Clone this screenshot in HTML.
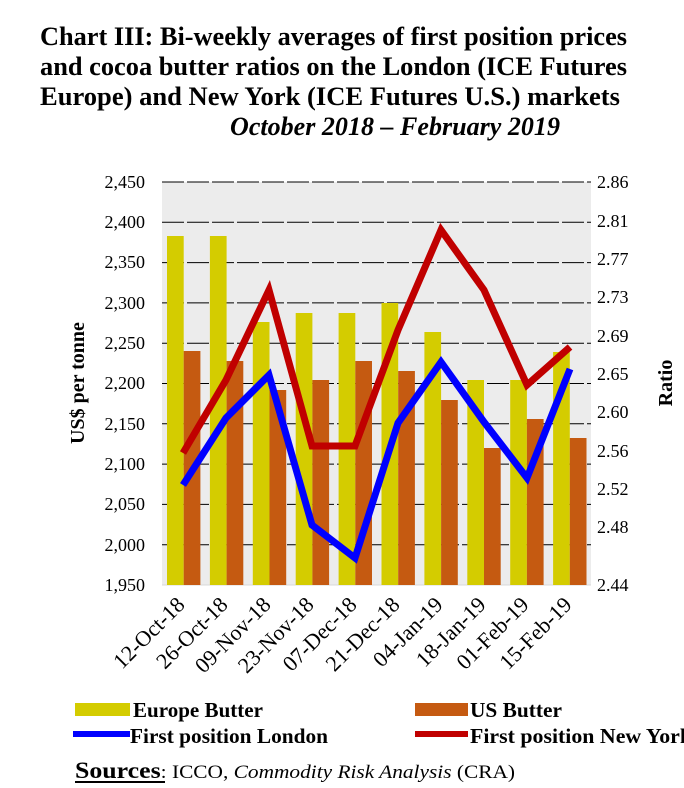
<!DOCTYPE html>
<html><head><meta charset="utf-8"><style>
html,body{margin:0;padding:0;background:#fff;}
svg{display:block;font-family:"Liberation Serif",serif;}
</style></head><body>
<svg width="684" height="788" viewBox="0 0 684 788" xmlns="http://www.w3.org/2000/svg">
<g font-weight="bold" font-size="26" fill="#000">
<text x="40" y="45" textLength="587" lengthAdjust="spacingAndGlyphs">Chart III: Bi-weekly averages of first position prices</text>
<text x="40" y="75" textLength="587" lengthAdjust="spacingAndGlyphs">and cocoa butter ratios on the London (ICE Futures</text>
<text x="40" y="105" textLength="580" lengthAdjust="spacingAndGlyphs">Europe) and New York (ICE Futures U.S.) markets</text>
<text x="230" y="135" font-style="italic" textLength="330" lengthAdjust="spacingAndGlyphs">October 2018 – February 2019</text>
</g>
<rect x="162" y="182" width="429" height="403" fill="#ececec"/>
<g stroke="#000" stroke-width="1" stroke-dasharray="22,3">
<line x1="162" y1="182" x2="591" y2="182"/><line x1="162" y1="222.3" x2="591" y2="222.3"/>
<line x1="162" y1="262.6" x2="591" y2="262.6"/><line x1="162" y1="302.9" x2="591" y2="302.9"/>
<line x1="162" y1="343.2" x2="591" y2="343.2"/><line x1="162" y1="383.5" x2="591" y2="383.5"/>
<line x1="162" y1="423.8" x2="591" y2="423.8"/><line x1="162" y1="464.1" x2="591" y2="464.1"/>
<line x1="162" y1="504.4" x2="591" y2="504.4"/><line x1="162" y1="544.7" x2="591" y2="544.7"/>
</g>
<line x1="162" y1="585" x2="591" y2="585" stroke="#d9d9d9" stroke-width="1"/>
<g fill="#d4cc00">
<rect x="167" y="236" width="16.7" height="349"/>
<rect x="209.9" y="236" width="16.7" height="349"/>
<rect x="252.8" y="322" width="16.7" height="263"/>
<rect x="295.7" y="313" width="16.7" height="272"/>
<rect x="338.6" y="313" width="16.7" height="272"/>
<rect x="381.5" y="303" width="16.7" height="282"/>
<rect x="424.4" y="332" width="16.7" height="253"/>
<rect x="467.3" y="380" width="16.7" height="205"/>
<rect x="510.2" y="380" width="16.7" height="205"/>
<rect x="553.1" y="352" width="16.7" height="233"/>
</g>
<g fill="#c55a11">
<rect x="183.7" y="351" width="16.7" height="234"/>
<rect x="226.6" y="361" width="16.7" height="224"/>
<rect x="269.5" y="390" width="16.7" height="195"/>
<rect x="312.4" y="380" width="16.7" height="205"/>
<rect x="355.3" y="361" width="16.7" height="224"/>
<rect x="398.2" y="371" width="16.7" height="214"/>
<rect x="441.1" y="400" width="16.7" height="185"/>
<rect x="484" y="448" width="16.7" height="137"/>
<rect x="526.9" y="419" width="16.7" height="166"/>
<rect x="569.8" y="438" width="16.7" height="147"/>
</g>
<polyline fill="none" stroke="#0000ff" stroke-width="7" stroke-linejoin="miter" points="183,485 226,418 269,375 312,525 355,558 398,423 441,362 484,422 527,478 570,369"/>
<polyline fill="none" stroke="#c00000" stroke-width="7" stroke-linejoin="miter" points="183,453 226,380 269,290 312,446 355,446 398,330 441,230 484,290 527,385 570,347"/>
<g font-size="18" text-anchor="end">
<text x="145" y="188">2,450</text><text x="145" y="228">2,400</text><text x="145" y="268">2,350</text>
<text x="145" y="309">2,300</text><text x="145" y="349">2,250</text><text x="145" y="389">2,200</text>
<text x="145" y="430">2,150</text><text x="145" y="470">2,100</text><text x="145" y="510">2,050</text>
<text x="145" y="551">2,000</text><text x="145" y="591">1,950</text>
</g>
<g font-size="18">
<text x="597" y="188">2.86</text><text x="597" y="227">2.81</text><text x="597" y="265">2.77</text>
<text x="597" y="303">2.73</text><text x="597" y="342">2.69</text><text x="597" y="380">2.65</text>
<text x="597" y="418">2.60</text><text x="597" y="457">2.56</text><text x="597" y="495">2.52</text>
<text x="597" y="533">2.48</text><text x="597" y="591">2.44</text>
</g>
<text transform="translate(84,383) rotate(-90)" text-anchor="middle" font-size="20" font-weight="bold">US$ per tonne</text>
<text transform="translate(672,383) rotate(-90)" text-anchor="middle" font-size="20" font-weight="bold">Ratio</text>
<g font-size="22" text-anchor="end">
<text transform="translate(186,606) rotate(-45)">12-Oct-18</text>
<text transform="translate(229,606) rotate(-45)">26-Oct-18</text>
<text transform="translate(272,606) rotate(-45)">09-Nov-18</text>
<text transform="translate(315,606) rotate(-45)">23-Nov-18</text>
<text transform="translate(358,606) rotate(-45)">07-Dec-18</text>
<text transform="translate(401,606) rotate(-45)">21-Dec-18</text>
<text transform="translate(444,606) rotate(-45)">04-Jan-19</text>
<text transform="translate(487,606) rotate(-45)">18-Jan-19</text>
<text transform="translate(530,606) rotate(-45)">01-Feb-19</text>
<text transform="translate(573,606) rotate(-45)">15-Feb-19</text>
</g>
<rect x="75" y="703" width="55" height="13" fill="#d4cc00"/>
<rect x="415" y="703" width="53" height="13" fill="#c55a11"/>
<rect x="73" y="731" width="57" height="6" fill="#0000ff"/>
<rect x="415" y="731" width="53" height="6" fill="#c00000"/>
<g font-size="21" font-weight="bold">
<text x="133" y="717" textLength="130" lengthAdjust="spacingAndGlyphs">Europe Butter</text>
<text x="470" y="717" textLength="92" lengthAdjust="spacingAndGlyphs">US Butter</text>
<text x="130" y="743" textLength="198" lengthAdjust="spacingAndGlyphs">First position London</text>
<text x="470" y="743" textLength="222" lengthAdjust="spacingAndGlyphs">First position New York</text>
</g>
<text x="75" y="778" font-size="19" textLength="440" lengthAdjust="spacingAndGlyphs"><tspan font-size="23" font-weight="bold">Sources</tspan>: ICCO, <tspan font-style="italic">Commodity Risk Analysis</tspan> (CRA)</text>
<line x1="75" y1="782" x2="165" y2="782" stroke="#000" stroke-width="2"/>
</svg>
</body></html>
